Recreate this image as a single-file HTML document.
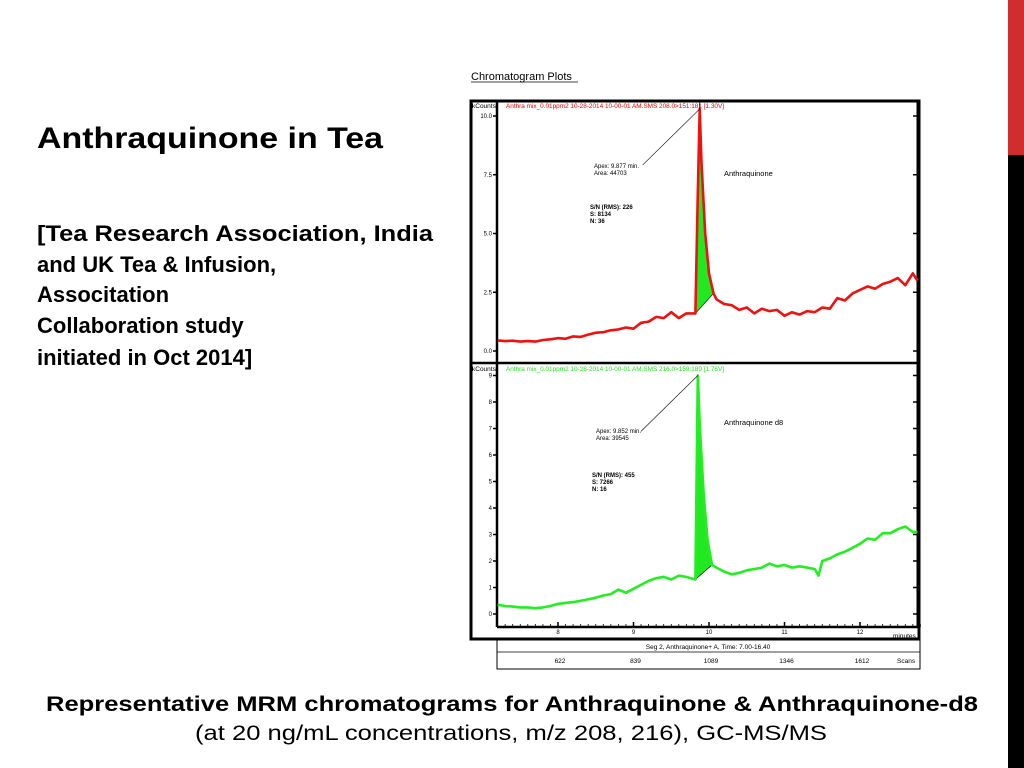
<!DOCTYPE html>
<html><head><meta charset="utf-8"><style>
html,body{margin:0;padding:0;background:#fff;}
svg{display:block;font-family:"Liberation Sans",Arial,sans-serif;}
</style></head><body>
<svg id="s" width="1024" height="768" viewBox="0 0 1024 768">
<rect x="1008" y="0" width="16" height="155" fill="#d12d2f"/>
<rect x="1008" y="155" width="16" height="613" fill="#000"/>
<text x="37" y="148" font-size="30" font-weight="bold" textLength="346" lengthAdjust="spacingAndGlyphs">Anthraquinone in Tea</text>
<g font-size="22" font-weight="bold">
<text x="37" y="241" textLength="396" lengthAdjust="spacingAndGlyphs">[Tea Research Association, India</text>
<text x="37" y="272">and UK Tea &amp; Infusion,</text>
<text x="37" y="302">Associtation</text>
<text x="37" y="333">Collaboration study</text>
<text x="37" y="365">initiated in Oct 2014]</text>
</g>
<text x="512" y="711" font-size="21" font-weight="bold" text-anchor="middle" textLength="932" lengthAdjust="spacingAndGlyphs">Representative MRM chromatograms for Anthraquinone &amp; Anthraquinone-d8</text>
<text x="511" y="740" font-size="21" text-anchor="middle" textLength="632" lengthAdjust="spacingAndGlyphs">(at 20 ng/mL concentrations, m/z 208, 216), GC-MS/MS</text>
<text x="471" y="80" font-size="11">Chromatogram Plots</text>
<line x1="471" y1="82" x2="578" y2="82" stroke="#000" stroke-width="0.8"/>
<rect x="471" y="101" width="448" height="538" fill="#fff" stroke="#000" stroke-width="3"/>
<line x1="471" y1="363" x2="919" y2="363" stroke="#000" stroke-width="2.5"/>
<line x1="497" y1="101" x2="497" y2="627" stroke="#000" stroke-width="2.5"/>
<line x1="497" y1="627" x2="919" y2="627" stroke="#000" stroke-width="2.5"/>
<line x1="917" y1="101" x2="917" y2="627" stroke="#000" stroke-width="1"/>
<rect x="497" y="640" width="423" height="29" fill="none" stroke="#000" stroke-width="1"/>
<line x1="497" y1="652" x2="920" y2="652" stroke="#000" stroke-width="0.8"/>
<text x="708" y="649" font-size="6.5" text-anchor="middle">Seg 2, Anthraquinone+ A, Time:  7.00-16.40</text>
<text x="897" y="663" font-size="6.5">Scans</text>
<text x="893" y="638" font-size="6.5">minutes</text>
<text x="472" y="108" font-size="6.5">kCounts</text>
<text x="472" y="371" font-size="6.5">kCounts</text>
<text x="506" y="108" font-size="6.5" fill="#e00" textLength="218" lengthAdjust="spacingAndGlyphs">Anthra mix_0.01ppm2 10-28-2014 10-00-01 AM.SMS 208.0&gt;151:181 [1.30V]</text>
<text x="506" y="371" font-size="6.5" fill="#2d2" textLength="218" lengthAdjust="spacingAndGlyphs">Anthra mix_0.01ppm2 10-28-2014 10-00-01 AM.SMS 216.0&gt;159:189 [1.76V]</text>
<g font-size="6">
<text x="594" y="168">Apex: 9.877 min.</text><text x="594" y="175">Area: 44703</text>
<text x="724" y="176" font-size="7.5">Anthraquinone</text>
<text x="590" y="209" font-weight="bold">S/N (RMS): 226</text><text x="590" y="216" font-weight="bold">S: 8134</text><text x="590" y="223" font-weight="bold">N: 36</text>
</g>
<g font-size="6">
<text x="596" y="433">Apex: 9.852 min.</text><text x="596" y="440">Area: 39545</text>
<text x="724" y="425" font-size="7.5">Anthraquinone d8</text>
<text x="592" y="477" font-weight="bold">S/N (RMS): 455</text><text x="592" y="484" font-weight="bold">S: 7266</text><text x="592" y="491" font-weight="bold">N: 16</text>
</g>
<g id="g"></g>
</svg>
<script>
// data
const topTimes=[7.2,7.3,7.4,7.5,7.6,7.7,7.8,7.9,8.0,8.1,8.2,8.3,8.4,8.5,8.6,8.7,8.8,8.9,9.0,9.1,9.2,9.3,9.4,9.5,9.6,9.7,9.82,9.85,9.877,9.9,9.95,10.0,10.06,10.1,10.2,10.3,10.4,10.5,10.6,10.7,10.8,10.9,11.0,11.1,11.2,11.3,11.4,11.5,11.6,11.7,11.8,11.9,12.0,12.1,12.2,12.3,12.4,12.5,12.6,12.7,12.76];
const topValues=[0.45,0.42,0.44,0.40,0.42,0.40,0.47,0.50,0.55,0.52,0.62,0.60,0.70,0.78,0.80,0.88,0.92,1.00,0.95,1.20,1.25,1.45,1.40,1.65,1.40,1.60,1.60,6.5,10.3,8.0,5.0,3.3,2.45,2.2,2.0,1.95,1.75,1.85,1.60,1.80,1.70,1.75,1.50,1.65,1.55,1.70,1.65,1.85,1.80,2.25,2.15,2.45,2.60,2.75,2.65,2.85,2.95,3.10,2.80,3.30,3.00];
const topPeak=[26,32];
const topApex=28;
const botTimes=[7.2,7.3,7.4,7.5,7.6,7.7,7.8,7.9,8.0,8.1,8.2,8.3,8.4,8.5,8.6,8.7,8.8,8.9,9.0,9.1,9.2,9.3,9.4,9.5,9.6,9.7,9.82,9.852,9.88,9.93,9.98,10.04,10.1,10.2,10.3,10.4,10.5,10.6,10.7,10.8,10.9,11.0,11.1,11.2,11.3,11.4,11.45,11.5,11.6,11.7,11.8,11.9,12.0,12.1,12.2,12.3,12.4,12.5,12.6,12.7,12.76];
const botValues=[0.35,0.30,0.28,0.25,0.25,0.22,0.25,0.30,0.38,0.42,0.45,0.50,0.55,0.62,0.70,0.75,0.92,0.80,0.95,1.10,1.25,1.35,1.40,1.30,1.45,1.40,1.30,9.0,7.0,4.5,2.8,1.85,1.75,1.60,1.50,1.55,1.65,1.70,1.75,1.90,1.80,1.85,1.75,1.80,1.75,1.70,1.45,2.0,2.1,2.25,2.35,2.50,2.65,2.85,2.80,3.05,3.05,3.20,3.30,3.10,3.10];
const botPeak=[26,31];
const botApex=27;
const xTicks=[8,9,10,11,12];
const topYTicks=[0,2.5,5,7.5,10];
const topYLabels=["0.0","2.5","5.0","7.5","10.0"];
const botYTicks=[0,1,2,3,4,5,6,7,8,9];
const scanLabels=["622","839","1089","1346","1612"];

const NS="http://www.w3.org/2000/svg";
const g=document.getElementById('g');
const X=t=>482.5+(t-7)*75.5;
const YT=v=>351-v*23.5;
const YB=v=>614-v*26.5;
function mk(tag,attrs,parent){const e=document.createElementNS(NS,tag);for(const k in attrs)e.setAttribute(k,attrs[k]);(parent||g).appendChild(e);return e;}

function drawSeries(times,vals,Y,peak,ai,color,name){
  const pts=times.map((t,i)=>X(t).toFixed(1)+','+Y(vals[i]).toFixed(1));
  const poly=[];for(let i=peak[0];i<=peak[1];i++)poly.push(pts[i]);
  const f=mk('polygon',{points:poly.join(' '),fill:'#22e822',stroke:'#000','stroke-width':0.6});
  
  
  const l=mk('polyline',{points:pts.join(' '),fill:'none',stroke:color,'stroke-width':2.6,'stroke-linejoin':'round'});
  
  
  const c=mk('line',{x1:X(times[ai]),y1:Y(vals[ai]),x2:X(times[ai])-57,y2:Y(vals[ai])+56,stroke:'#000','stroke-width':0.6});
  
  
}
drawSeries(topTimes,topValues,YT,topPeak,topApex,'#f01010','anthraquinone');
drawSeries(botTimes,botValues,YB,botPeak,botApex,'#22ee22','anthraquinone-d8');
mk('line',{x1:X(9.877),y1:101,x2:X(9.877),y2:YT(10.3),stroke:'#000','stroke-width':0.8});

xTicks.forEach((t,i)=>{
  const tk=mk('line',{x1:X(t),y1:622,x2:X(t),y2:627,stroke:'#000','stroke-width':1.5});
  
  
  const tl=mk('text',{x:X(t),y:634,'font-size':6,'text-anchor':'middle'});tl.textContent=t;
  
  
  const sl=mk('text',{x:X(t)+2,y:663,'font-size':6.5,'text-anchor':'middle'});sl.textContent=scanLabels[i];
  
  
});
for(let t=7.2;t<12.8;t+=0.1){mk('line',{x1:X(t),y1:624,x2:X(t),y2:627,stroke:'#000','stroke-width':0.8});}
topYTicks.forEach((v,i)=>{
  mk('line',{x1:493,y1:YT(v),x2:497,y2:YT(v),stroke:'#000','stroke-width':1.5});
  mk('line',{x1:913,y1:YT(v),x2:917,y2:YT(v),stroke:'#000','stroke-width':1.5});
  const tl=mk('text',{x:492,y:YT(v)+2,'font-size':6,'text-anchor':'end'});tl.textContent=topYLabels[i];
  
  
});
botYTicks.forEach(v=>{
  mk('line',{x1:493,y1:YB(v),x2:497,y2:YB(v),stroke:'#000','stroke-width':1.5});
  mk('line',{x1:913,y1:YB(v),x2:917,y2:YB(v),stroke:'#000','stroke-width':1.5});
  const tl=mk('text',{x:492,y:YB(v)+2,'font-size':6,'text-anchor':'end'});tl.textContent=v;
  
  
});
</script>
</body></html>
